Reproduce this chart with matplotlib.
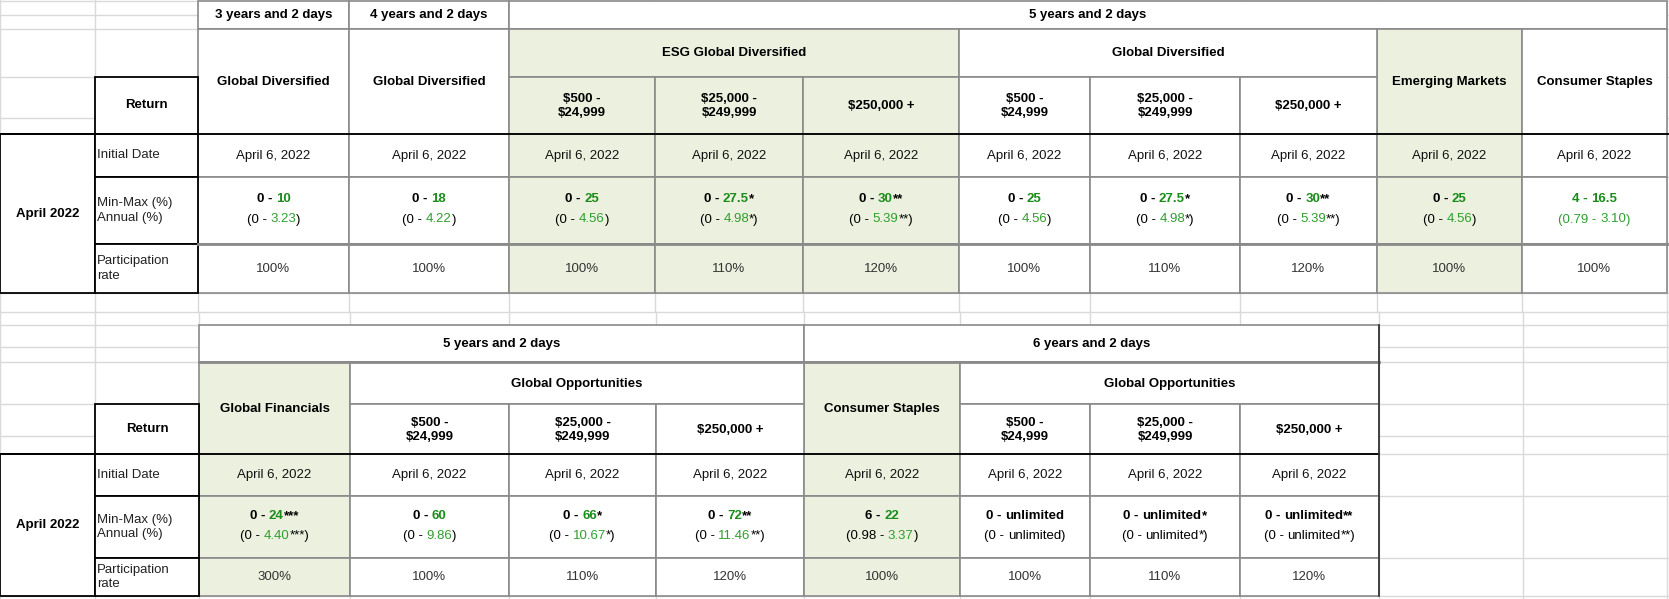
import matplotlib.pyplot as plt
from matplotlib.patches import Rectangle

plt.rcParams["font.family"] = ["Liberation Sans", "DejaVu Sans"]

# ---- data: top table ----
top_periods = ["3 years and 2 days", "4 years and 2 days", "5 years and 2 days"]
top_min = ["0", "0", "0", "0", "0", "0", "0", "0", "0", "4"]
top_max = ["10", "18", "25", "27.5", "30", "25", "27.5", "30", "25", "16.5"]
top_sfx = ["", "", "", "*", "**", "", "*", "**", "", ""]
top_ann_lo = ["0", "0", "0", "0", "0", "0", "0", "0", "0", "0.79"]
top_ann_hi = ["3.23", "4.22", "4.56", "4.98", "5.39", "4.56", "4.98", "5.39", "4.56", "3.10"]
top_part = ["100%", "100%", "100%", "110%", "120%", "100%", "110%", "120%", "100%", "100%"]

# ---- data: bottom table ----
bot_periods = ["5 years and 2 days", "6 years and 2 days"]
bot_min = ["0", "0", "0", "0", "6", "0", "0", "0"]
bot_max = ["24", "60", "66", "72", "22", "unlimited", "unlimited", "unlimited"]
bot_sfx = ["***", "", "*", "**", "", "", "*", "**"]
bot_ann_lo = ["0", "0", "0", "0", "0.98", "0", "0", "0"]
bot_ann_hi = ["4.40", "9.86", "10.67", "11.46", "3.37", "unlimited", "unlimited", "unlimited"]
bot_part = ["300%", "100%", "110%", "120%", "100%", "100%", "110%", "120%"]

tiers = ["$500 -\n$24,999", "$25,000 -\n$249,999", "$250,000 +"]
date = "April 6, 2022"

W, H = 1669, 599
fig = plt.figure(figsize=(W / 100, H / 100), dpi=100)
ax = fig.add_axes([0, 0, 1, 1])
ax.set_xlim(0, W)
ax.set_ylim(H, 0)
ax.axis("off")
renderer = fig.canvas.get_renderer()

FILL = "#ebf1de"
GREEN = "#1a8c1a"
LGREEN = "#2e9e2e"
EDGE = "#8a8a8a"
GRID = "#d9d9d9"

tx = [0, 95, 198, 349, 509, 655, 803, 959, 1090, 1240, 1377, 1522, 1667]
bx = [0, 95, 199, 350, 509, 656, 804, 960, 1090, 1240, 1379, 1523, 1667]

# spreadsheet gridlines (behind the table cells)
for x in tx:
    ax.plot([x, x], [0, 312], color=GRID, lw=1, zorder=0)
for x in bx:
    ax.plot([x, x], [312, H], color=GRID, lw=1, zorder=0)
for y in [1, 15, 29, 77, 118, 134, 177, 244, 293, 312, 325, 347, 362, 404, 436, 454, 496, 558, 596]:
    ax.plot([0, W], [y, y], color=GRID, lw=1, zorder=0)


def cell(x0, x1, y0, y1, fc="white", ec=EDGE, lw=1.2):
    ax.add_patch(Rectangle((x0, y0), x1 - x0, y1 - y0, facecolor=fc, edgecolor=ec, lw=lw, zorder=1))


def txt(x, y, s, bold=False, size=9.5, color="black", ha="center"):
    ax.text(x, y, s, ha=ha, va="center", fontsize=size, color=color,
            fontweight="bold" if bold else "normal", linespacing=1.3, zorder=3)


def measure(s, size, bold):
    kw = dict(fontsize=size, fontweight="bold" if bold else "normal")
    a = ax.text(0, 0, s + "|", **kw)
    b = ax.text(0, 0, "|", **kw)
    w = a.get_window_extent(renderer).width - b.get_window_extent(renderer).width
    a.remove()
    b.remove()
    return w


def rich(xc, y, parts, size=9.5):
    full = "".join(p[0] for p in parts)
    bold = parts[0][2]
    total = measure(full, size, bold)
    x0 = xc - total / 2
    prefix = ""
    for s, c, b in parts:
        off = measure(prefix, size, b) if prefix else 0
        ax.text(x0 + off, y, s, fontsize=size, color=c, va="center", ha="left",
                fontweight="bold" if b else "normal", zorder=3)
        prefix += s


def values(xc, ymid, lo, hi, sfx, alo, ahi):
    lo_c = GREEN if lo == "4" else "black"
    hi_c = "black" if hi == "unlimited" else GREEN
    rich(xc, ymid - 11, [(lo + " - ", lo_c, True), (hi, hi_c, True), (sfx, "black", True)])
    alo_c = LGREEN if alo == "0.79" else "black"
    ahi_c = "black" if ahi == "unlimited" else LGREEN
    rich(xc, ymid + 9, [("(" + alo + " - ", alo_c, False),
                        (ahi, ahi_c, False), (sfx + ")", alo_c, False)])


def label_block(x, rows, y_ret0):
    cell(0, x[1], rows[0], rows[3], ec="black", lw=1.3)
    txt(x[1] / 2, (rows[0] + rows[3]) / 2, "April 2022", bold=True)
    cell(x[1], x[2], y_ret0, rows[0], ec="black", lw=1.3)
    txt((x[1] + x[2]) / 2, (y_ret0 + rows[0]) / 2, "Return", bold=True)
    for i, lab in enumerate(["Initial Date", "Min-Max (%)\nAnnual (%)", "Participation\nrate"]):
        cell(x[1], x[2], rows[i], rows[i + 1], ec="black", lw=1.3)
        txt(x[1] + 2, (rows[i] + rows[i + 1]) / 2, lab, ha="left", color="#222222")


def data_cols(x, rows, mins, maxs, sfxs, alos, ahis, parts, shaded):
    for i in range(len(maxs)):
        x0, x1 = x[i + 2], x[i + 3]
        fc = FILL if i in shaded else "white"
        for r in range(3):
            cell(x0, x1, rows[r], rows[r + 1], fc=fc)
        xc = (x0 + x1) / 2
        txt(xc, (rows[0] + rows[1]) / 2, date, color="#111111")
        values(xc, (rows[1] + rows[2]) / 2, mins[i], maxs[i], sfxs[i], alos[i], ahis[i])
        txt(xc, (rows[2] + rows[3]) / 2, parts[i], color="#333333")


# ---- top table ----
tr = [134, 177, 244, 293]
top_shaded = [2, 3, 4, 8]
cell(tx[2], tx[3], 1, 29)
txt((tx[2] + tx[3]) / 2, 15, top_periods[0], bold=True)
cell(tx[3], tx[4], 1, 29)
txt((tx[3] + tx[4]) / 2, 15, top_periods[1], bold=True)
cell(tx[4], tx[12], 1, 29)
txt((tx[4] + tx[12]) / 2, 15, top_periods[2], bold=True)
for j, name in [(2, "Global Diversified"), (3, "Global Diversified"), (10, "Emerging Markets"), (11, "Consumer Staples")]:
    cell(tx[j], tx[j + 1], 29, 134, fc=FILL if j == 10 else "white")
    txt((tx[j] + tx[j + 1]) / 2, 82, name, bold=True)
for j0, name, fc in [(4, "ESG Global Diversified", FILL), (7, "Global Diversified", "white")]:
    cell(tx[j0], tx[j0 + 3], 29, 77, fc=fc)
    txt((tx[j0] + tx[j0 + 3]) / 2, 53, name, bold=True)
    for k in range(3):
        cell(tx[j0 + k], tx[j0 + k + 1], 77, 134, fc=fc)
        txt((tx[j0 + k] + tx[j0 + k + 1]) / 2, 106, tiers[k], bold=True)
data_cols(tx, tr, top_min, top_max, top_sfx, top_ann_lo, top_ann_hi, top_part, top_shaded)
label_block(tx, tr, 77)
ax.plot([0, W], [134, 134], color="black", lw=1.3, zorder=2)
ax.plot([tx[2], W], [244, 244], color=EDGE, lw=2, zorder=2)

# ---- bottom table ----
br = [454, 496, 558, 596]
bot_shaded = [0, 4]
cell(bx[2], bx[6], 325, 362)
txt((bx[2] + bx[6]) / 2, 344, bot_periods[0], bold=True)
cell(bx[6], bx[10], 325, 362)
txt((bx[6] + bx[10]) / 2, 344, bot_periods[1], bold=True)
ax.plot([bx[2], bx[10]], [362, 362], color=EDGE, lw=2, zorder=2)
for j, name in [(2, "Global Financials"), (6, "Consumer Staples")]:
    cell(bx[j], bx[j + 1], 362, 454, fc=FILL)
    txt((bx[j] + bx[j + 1]) / 2, 409, name, bold=True)
for j0 in [3, 7]:
    cell(bx[j0], bx[j0 + 3], 362, 404)
    txt((bx[j0] + bx[j0 + 3]) / 2, 384, "Global Opportunities", bold=True)
    for k in range(3):
        cell(bx[j0 + k], bx[j0 + k + 1], 404, 454)
        txt((bx[j0 + k] + bx[j0 + k + 1]) / 2, 430, tiers[k], bold=True)
data_cols(bx, br, bot_min, bot_max, bot_sfx, bot_ann_lo, bot_ann_hi, bot_part, bot_shaded)
label_block(bx, br, 404)
ax.plot([0, bx[10]], [454, 454], color="black", lw=1.3, zorder=2)
ax.plot([bx[10], bx[10]], [325, 596], color="#333333", lw=1.2, zorder=2)

fig.savefig("out.png", dpi=100)
